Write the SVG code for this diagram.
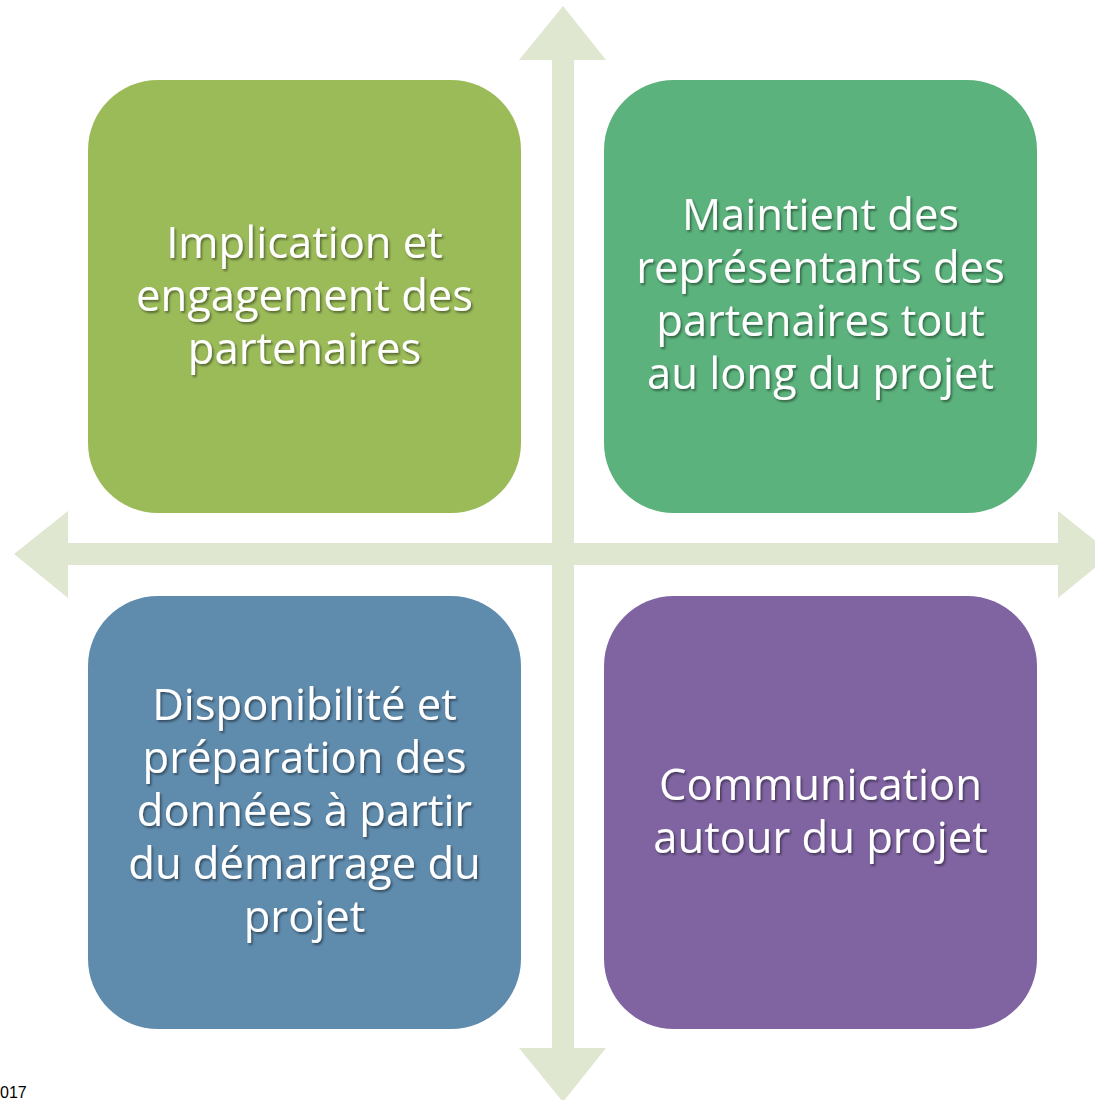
<svg xmlns="http://www.w3.org/2000/svg" width="1095" height="1100" viewBox="0 0 1095 1100">
<defs>
<filter id="sh" x="-10%" y="-10%" width="120%" height="130%">
<feDropShadow dx="1.5" dy="2" stdDeviation="1" flood-color="#000" flood-opacity="0.45"/>
</filter>
<style>
.arr{fill:#DFE7D1;stroke:none}
.box{stroke:none}
.t{font-family:"Open Sans","Noto Sans",sans-serif;font-size:43.5px;fill:#FFFFFF;text-anchor:middle;filter:url(#sh)}
.note{font-family:"Liberation Sans",Arial,sans-serif;font-size:16px;fill:#000}
</style>
</defs>
<rect width="1095" height="1100" fill="#FFFFFF"/>
<g id="connectors">
<path class="arr" d="M563,6 L606,60 L574,60 L574,1048 L606,1048 L563,1102 L519,1048 L552,1048 L552,60 L519,60 Z"/>
<path class="arr" d="M14,554 L68,511 L68,543 L1058,543 L1058,511 L1112,554 L1058,598 L1058,565 L68,565 L68,598 Z"/>
</g>
<g id="node-implication">
<rect class="box" x="88" y="80" width="433" height="433" rx="70" ry="70" fill="#9BBB59"/>
<text class="t"><tspan x="304.5" y="258">Implication et</tspan><tspan x="304.5" y="311">engagement des</tspan><tspan x="304.5" y="364">partenaires</tspan></text>
</g>
<g id="node-maintient">
<rect class="box" x="604" y="80" width="433" height="433" rx="70" ry="70" fill="#5BB27C"/>
<text class="t"><tspan x="820.5" y="230">Maintient des</tspan><tspan x="820.5" y="283">représentants des</tspan><tspan x="820.5" y="336">partenaires tout</tspan><tspan x="820.5" y="389">au long du projet</tspan></text>
</g>
<g id="node-disponibilite">
<rect class="box" x="88" y="596" width="433" height="433" rx="70" ry="70" fill="#5F8BAD"/>
<text class="t"><tspan x="304.5" y="720">Disponibilité et</tspan><tspan x="304.5" y="773">préparation des</tspan><tspan x="304.5" y="826">données à partir</tspan><tspan x="304.5" y="879">du démarrage du</tspan><tspan x="304.5" y="932">projet</tspan></text>
</g>
<g id="node-communication">
<rect class="box" x="604" y="596" width="433" height="433" rx="70" ry="70" fill="#8064A2"/>
<text class="t"><tspan x="820.5" y="800">Communication</tspan><tspan x="820.5" y="853">autour du projet</tspan></text>
</g>
<text class="note" x="0" y="1098">017</text>
</svg>
